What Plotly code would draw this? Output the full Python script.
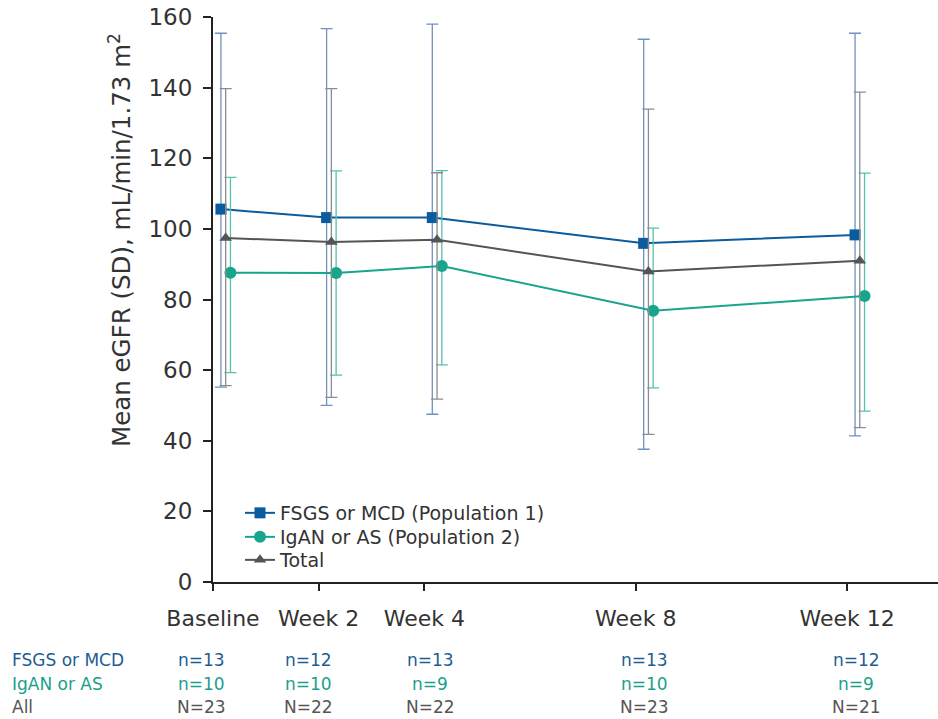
import plotly.graph_objects as go

# ---- data ----
weeks = [0, 2, 4, 8, 12]
week_labels = ["Baseline", "Week 2", "Week 4", "Week 8", "Week 12"]

fsgs_mean = [105.6, 103.2, 103.2, 95.9, 98.3]
fsgs_upper = [155.4, 156.7, 158.0, 153.7, 155.4]
fsgs_lower = [55.2, 50.0, 47.5, 37.6, 41.4]

igan_mean = [87.6, 87.5, 89.5, 76.8, 81.0]
igan_upper = [114.6, 116.4, 116.5, 100.2, 115.8]
igan_lower = [59.3, 58.6, 61.5, 55.0, 48.4]

total_mean = [97.4, 96.3, 96.9, 87.9, 91.0]
total_upper = [139.7, 139.7, 115.9, 133.9, 138.7]
total_lower = [55.6, 52.3, 51.8, 41.8, 43.7]

fsgs_n = [13, 12, 13, 13, 12]
igan_n = [10, 10, 9, 10, 9]
all_n = [23, 22, 22, 23, 21]

# ---- styles ----
FSGS_C, FSGS_E = "#0b5c9e", "#6f92bf"
IGAN_C, IGAN_E = "#17a58c", "#55c2ad"
TOT_C, TOT_E = "#555555", "#8c8c8c"
FONT = "DejaVu Sans"
COL_SHIFT = [-12, -10, 6, 9, 9]   # horizontal nudges of the count columns (px)

W, H = 938, 719
ML, MR, MT, MB = 213, 0, 17, 137
PW, PH = W - ML - MR, H - MT - MB
XMAX = 13.72

def py(pix):
    return (MT + PH - pix) / PH

def px(pix):
    return (pix - ML) / PW

def trace(name, mean, up, lo, color, ecolor, symbol, size, offset, legend):
    return go.Scatter(
        x=[w + offset for w in weeks], y=mean, name=name, legend=legend,
        mode="lines+markers",
        line=dict(color=color, width=2),
        marker=dict(symbol=symbol, size=size, color=color),
        error_y=dict(type="data", symmetric=False,
                     array=[u - m for u, m in zip(up, mean)],
                     arrayminus=[m - l for m, l in zip(mean, lo)],
                     color=ecolor, thickness=1.3, width=6),
    )

fig = go.Figure()
fig.add_trace(trace("FSGS or MCD (Population 1)", fsgs_mean, fsgs_upper, fsgs_lower,
                    FSGS_C, FSGS_E, "square", 11, 0.15, "legend"))
fig.add_trace(trace("IgAN or AS (Population 2)", igan_mean, igan_upper, igan_lower,
                    IGAN_C, IGAN_E, "circle", 12, 0.33, "legend2"))
fig.add_trace(trace("Total", total_mean, total_upper, total_lower,
                    TOT_C, TOT_E, "triangle-up", 11, 0.24, "legend3"))

anns = [dict(text="Mean eGFR (SD), mL/min/1.73 m<sup>2</sup>", textangle=-90,
             xref="paper", yref="paper", x=px(120), y=py(240),
             xanchor="center", yanchor="middle", showarrow=False,
             font=dict(family=FONT, size=24.5, color="#333333"))]
rows = [("FSGS or MCD", "n", fsgs_n, "#1d5d94", 660),
        ("IgAN or AS", "n", igan_n, "#1aa08a", 684),
        ("All", "N", all_n, "#555555", 707)]
for label, sym, vals, col, pix in rows:
    anns.append(dict(text=label, xref="paper", yref="paper", x=px(10), y=py(pix),
                     xanchor="left", yanchor="middle", showarrow=False,
                     font=dict(family=FONT, size=17, color=col)))
    for w, v, sh in zip(weeks, vals, COL_SHIFT):
        anns.append(dict(text=f"{sym}={v}", xref="x", yref="paper", x=w, y=py(pix),
                         xshift=sh, xanchor="center", yanchor="middle", showarrow=False,
                         font=dict(family=FONT, size=17, color=col)))

def leg(pix):
    return dict(x=px(240), y=py(pix), xanchor="left", yanchor="middle",
                bgcolor="rgba(0,0,0,0)", font=dict(family=FONT, size=19, color="#333333"))

fig.update_layout(
    width=W, height=H, margin=dict(l=ML, r=MR, t=MT, b=MB, autoexpand=False),
    plot_bgcolor="white", paper_bgcolor="white",
    font=dict(family=FONT, color="#333333"),
    showlegend=True,
    legend=leg(513), legend2=leg(537), legend3=leg(560),
    annotations=anns,
    xaxis=dict(range=[0, XMAX], tickvals=weeks, ticktext=week_labels, automargin=False,
               showgrid=False, zeroline=False, showline=True, linecolor="#222222",
               linewidth=2, ticks="outside", ticklen=7, tickwidth=2, tickcolor="#222222",
               tickfont=dict(family=FONT, size=22, color="#333333"),
               ticklabelstandoff=9),
    yaxis=dict(range=[0, 160], tickvals=list(range(0, 161, 20)), automargin=False,
               showgrid=False, zeroline=False, showline=True, linecolor="#222222",
               linewidth=2, ticks="outside", ticklen=8, tickwidth=2, tickcolor="#222222",
               tickfont=dict(family=FONT, size=23, color="#333333"),
               ticklabelstandoff=6),
)

fig.write_html("out.html", config={"displayModeBar": False},
               post_script="document.body.style.margin='0';")
